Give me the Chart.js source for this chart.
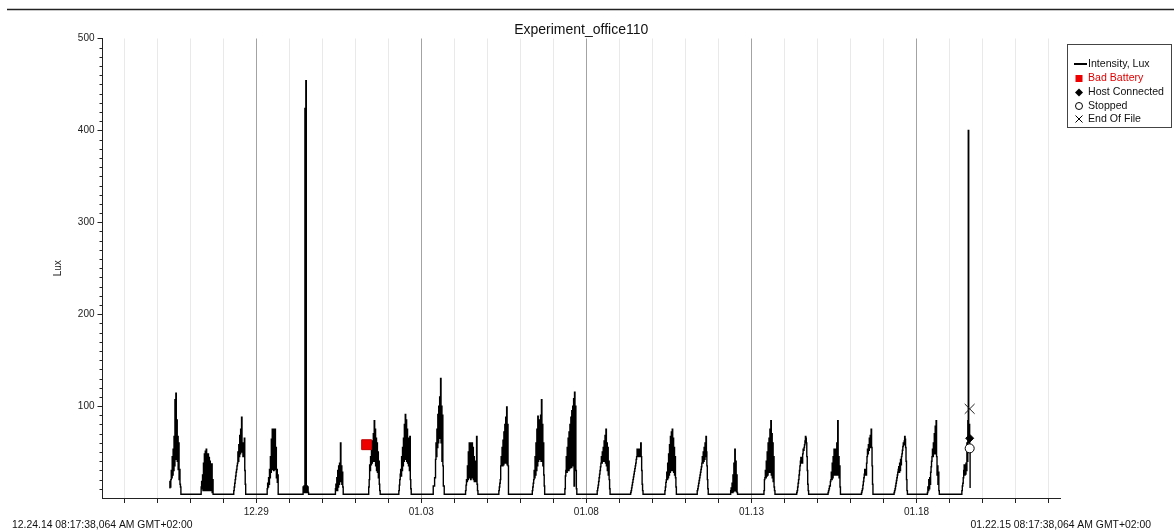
<!DOCTYPE html>
<html>
<head>
<meta charset="utf-8">
<title>Experiment_office110</title>
<script src="https://cdn.jsdelivr.net/npm/chart.js@4.4.1/dist/chart.umd.min.js"></script>
<style>
  html, body { margin: 0; padding: 0; background: #fff; }
  canvas { display: block; }
</style>
</head>
<body>
<canvas id="chart" width="1174" height="531"></canvas>
<script>
// Logger run, 12.24.14 08:17:38 to 01.22.15 08:17:38 (GMT+02:00)
const chartTitle = 'Experiment_office110';
const startStamp = '12.24.14 08:17:38,064 AM GMT+02:00';
const endStamp = '01.22.15 08:17:38,064 AM GMT+02:00';
const axisStartDay = 0.3456;   // days after 12.24 00:00
const axisEndDay = 29.3456;
const dayTicks = [1,2,3,4,5,6,7,8,9,10,11,12,13,14,15,16,17,18,19,20,21,22,23,24,25,26,27,28,29];
const yTickStep = 10;
const sampleMinutes = 20;

// day (after 12.24) and hour when each day's block of readings begins
const readingDay = [2,3,4,5,6,7,8,9,10,11,12,13,14,15,16,17,18,19,20,21,22,23,24,25,26];
const readingStartHour = [8.95,8.0,7.7,8.0,10.1,9.6,9.8,7.7,8.7,8.2,8.4,8.7,8.4,7.9,8.2,9.1,8.6,8.9,9.1,8.9,7.7,8.0,7.7,7.9,8.95];

// light intensity readings (lux), one every sampleMinutes
const lux1226 = [11,18,12,20,30,22,45,25,53,30,67,35,107,45,114,42,85,40,67,31,60,20,31,15,12,4];
const lux1227 = [12,18,10,25,8,38,10,48,8,51,10,53,8,45,10,48,8,44,10,40,8,35,10,37,6,20,4];
const lux1228 = [8,12,16,20,24,28,31,35,38,50,40,58,45,68,48,75,55,88,50,60,45,55,48,65,30,15,4];
const lux1229 = [10,16,12,22,15,31,22,45,28,64,32,75,31,75,30,75,32,75,31,55,22,31,17,25,4];
const lux1230 = [12,6,13,6,424,8,454,6,13,6,12,6,4];
const lux1231 = [10,15,8,22,8,30,12,35,15,38,18,60,20,35,15,28,12,4];
const lux0101 = [12,20,36,30,45,36,55,38,62,40,70,42,84,40,75,35,65,30,60,28,50,22,40,15,8,4];
const lux0102 = [8,14,20,26,31,24,45,30,55,35,65,40,80,45,91,42,85,40,75,38,65,35,60,30,67,20,10,4];
const lux0103 = [13,13,13,22,22,42,60,45,75,55,91,60,100,65,110,70,130,60,100,40,90,35,13,13,4];
const lux0104 = [8,14,20,18,35,20,50,22,60,22,60,20,60,25,60,22,55,20,45,18,40,18,35,20,67,15,8,4];
const lux0105 = [8,12,16,20,35,45,35,55,35,63,36,72,38,80,38,88,40,99,36,80,35,4];
const lux0106 = [8,12,16,20,30,22,45,25,60,30,75,35,89,40,80,42,85,45,90,40,107,45,80,35,60,25,13,4];
const lux0107 = [10,24,30,45,28,55,30,65,30,72,32,80,33,88,33,95,35,100,35,108,13,115,35,100,30,10,4];
const lux0108 = [8,11,14,18,22,26,30,34,38,45,38,50,40,55,40,62,40,68,38,75,35,60,30,55,25,40,20,10,4];
const lux0109 = [6,8,11,14,17,20,23,26,29,32,35,38,42,45,53,45,53,45,53,45,53,45,60,45,30,15,8,4];
const lux0110 = [8,12,17,20,28,20,38,22,48,25,58,28,67,30,72,32,75,30,65,28,55,25,45,22,12,4];
const lux0111 = [8,10,13,16,19,22,25,28,31,34,38,45,38,50,40,55,42,60,45,67,50,35,20,10,4];
const lux0112 = [8,11,6,16,6,25,7,38,8,53,8,40,7,25,6,4];
const lux0113 = [8,20,22,30,22,40,24,50,25,60,28,65,30,75,28,84,25,70,22,60,18,45,12,8,4];
const lux0114 = [6,8,12,16,20,25,30,35,40,44,38,44,38,48,53,52,55,58,62,67,65,60,45,30,15,8,4];
const lux0115 = [6,8,10,13,13,18,20,28,20,38,22,45,25,53,28,50,25,53,30,60,25,84,30,45,22,35,12,4];
const lux0116 = [6,8,10,14,18,22,26,31,25,31,25,38,45,53,48,58,52,65,55,68,60,75,55,35,15,4];
const lux0117 = [6,8,10,13,16,19,22,25,28,31,34,28,38,30,42,36,45,48,52,56,60,58,62,67,64,55,40,20,8,4];
const lux0118 = [6,12,8,20,10,22,15,28,34,40,45,53,45,60,48,70,50,78,48,84,45,25,35,15,28,8,4];
const lux0119 = [8,13,16,22,30,36,25,36,26,38,30,60,40,84,400,60,80,55,11];

const luxByDay = [lux1226,lux1227,lux1228,lux1229,lux1230,lux1231,lux0101,lux0102,lux0103,lux0104,
  lux0105,lux0106,lux0107,lux0108,lux0109,lux0110,lux0111,lux0112,lux0113,lux0114,
  lux0115,lux0116,lux0117,lux0118,lux0119];

// logger events: day after 12.24 and lux at the event
const badBatteryDay = [8.345];
const badBatteryLux = [58];
const hostConnectedDay = [26.61];
const hostConnectedLux = [65];
const stoppedDay = [26.61];
const stoppedLux = [54];
const endOfFileDay = [26.61];
const endOfFileLux = [97];

// ---------------------------------------------------------------
const FONT = "'Liberation Sans', Arial, sans-serif";
Chart.defaults.font.family = FONT;
Chart.defaults.color = '#1a1a1a';

const intensityPoints = [];
luxByDay.forEach((arr, k) => {
  const t0 = readingDay[k] + readingStartHour[k] / 24;
  arr.forEach((v, i) => intensityPoints.push({ x: t0 + i * sampleMinutes / 1440, y: v }));
});
const pair = (xs, ys) => xs.map((x, i) => ({ x, y: ys[i] }));

function dayLabel(d) {
  const dt = new Date(2014, 11, 24 + d);
  return String(dt.getMonth() + 1).padStart(2, '0') + '.' + String(dt.getDate()).padStart(2, '0');
}

// minor ticks on the lux axis
const yMinorTicks = {
  id: 'yMinorTicks',
  afterDraw(chart) {
    const s = chart.scales.y, ctx = chart.ctx;
    ctx.save();
    ctx.strokeStyle = '#222';
    ctx.lineWidth = 1;
    s.ticks.forEach(t => {
      if (t.value % 100 === 0) return;
      const py = Math.round(s.getPixelForValue(t.value)) + 0.5;
      ctx.beginPath();
      ctx.moveTo(s.right - 3, py);
      ctx.lineTo(s.right, py);
      ctx.stroke();
    });
    ctx.restore();
  }
};

// heading rule, title, run stamps and the boxed legend
const decor = {
  id: 'decor',
  afterDraw(chart) {
    const ctx = chart.ctx, area = chart.chartArea;
    ctx.save();
    ctx.strokeStyle = '#222';
    ctx.lineWidth = 1.5;
    ctx.beginPath();
    ctx.moveTo(7, 9.5);
    ctx.lineTo(chart.width, 9.5);
    ctx.stroke();

    ctx.fillStyle = '#111';
    ctx.font = '14px ' + FONT;
    ctx.textAlign = 'center';
    ctx.textBaseline = 'middle';
    ctx.fillText(chartTitle, (area.left + area.right) / 2, 30);

    ctx.font = '10.4px ' + FONT;
    ctx.textAlign = 'left';
    ctx.fillText(startStamp, 12, 525);
    ctx.textAlign = 'right';
    ctx.fillText(endStamp, 1151, 525);

    // legend
    const bx = 1067.5, by = 44.5, bw = 104, bh = 83;
    ctx.strokeStyle = '#444';
    ctx.lineWidth = 1;
    ctx.strokeRect(bx, by, bw, bh);
    const rows = [64, 78.5, 92.5, 106, 119];
    const sx = 1079, tx = 1088;
    ctx.font = '10.6px ' + FONT;
    ctx.textAlign = 'left';
    chart.data.datasets.forEach((ds, i) => {
      const y = rows[i];
      ctx.fillStyle = i === 1 ? '#e00000' : '#111';
      ctx.fillText(ds.label, tx, y);
      ctx.save();
      if (i === 0) {
        ctx.strokeStyle = '#000'; ctx.lineWidth = 2;
        ctx.beginPath(); ctx.moveTo(1074, y); ctx.lineTo(1087, y); ctx.stroke();
      } else if (i === 1) {
        ctx.fillStyle = '#ee0000';
        ctx.fillRect(sx - 3.5, y - 3.5, 7, 7);
      } else if (i === 2) {
        ctx.fillStyle = '#000';
        ctx.beginPath();
        ctx.moveTo(sx, y - 4); ctx.lineTo(sx + 4, y); ctx.lineTo(sx, y + 4); ctx.lineTo(sx - 4, y);
        ctx.closePath(); ctx.fill();
      } else if (i === 3) {
        ctx.strokeStyle = '#000'; ctx.lineWidth = 1; ctx.fillStyle = '#fff';
        ctx.beginPath(); ctx.arc(sx, y, 3.5, 0, Math.PI * 2); ctx.fill(); ctx.stroke();
      } else {
        ctx.strokeStyle = '#000'; ctx.lineWidth = 1;
        ctx.beginPath();
        ctx.moveTo(sx - 3.5, y - 3.5); ctx.lineTo(sx + 3.5, y + 3.5);
        ctx.moveTo(sx + 3.5, y - 3.5); ctx.lineTo(sx - 3.5, y + 3.5);
        ctx.stroke();
      }
      ctx.restore();
    });
    ctx.restore();
  }
};

new Chart(document.getElementById('chart'), {
  type: 'line',
  data: {
    datasets: [
      { label: 'Intensity, Lux', data: intensityPoints, borderColor: '#000', borderWidth: 1.4,
        pointRadius: 0, stepped: 'before', fill: false, order: 5 },
      { label: 'Bad Battery', data: pair(badBatteryDay, badBatteryLux), showLine: false,
        pointStyle: 'rect', pointRadius: 7, backgroundColor: '#ee0000', borderColor: '#c00000',
        borderWidth: 1, order: 1 },
      { label: 'Host Connected', data: pair(hostConnectedDay, hostConnectedLux), showLine: false,
        pointStyle: 'rectRot', pointRadius: 4, backgroundColor: '#000', borderColor: '#000',
        borderWidth: 1, order: 2 },
      { label: 'Stopped', data: pair(stoppedDay, stoppedLux), showLine: false,
        pointStyle: 'circle', pointRadius: 4.5, backgroundColor: '#fff', borderColor: '#000',
        borderWidth: 1, order: 1 },
      { label: 'End Of File', data: pair(endOfFileDay, endOfFileLux), showLine: false,
        pointStyle: 'crossRot', pointRadius: 7, backgroundColor: '#000', borderColor: '#222',
        borderWidth: 1, order: 1 }
    ]
  },
  options: {
    responsive: false,
    animation: false,
    events: [],
    normalized: true,
    layout: { padding: { left: 48, top: 38.5, right: 114, bottom: 0 } },
    plugins: {
      legend: { display: false },
      title: { display: false },
      tooltip: { enabled: false }
    },
    scales: {
      x: {
        type: 'linear',
        min: axisStartDay,
        max: axisEndDay,
        afterBuildTicks: s => { s.ticks = dayTicks.map(v => ({ value: v })); },
        afterFit: s => { s.height = 33; },
        ticks: {
          autoSkip: false, maxRotation: 0, padding: 3, color: '#222',
          font: { size: 10 },
          callback: v => (v % 5 === 0 ? dayLabel(v) : '')
        },
        grid: {
          color: c => (c.tick && c.tick.value % 5 === 0 ? '#a3a3a3' : '#e9e9e9'),
          lineWidth: 1, tickLength: 5, tickColor: '#222', drawTicks: true
        },
        border: { display: true, color: '#222', width: 1 }
      },
      y: {
        min: 0,
        max: 500,
        afterFit: s => { s.width = 54.5; },
        ticks: {
          stepSize: yTickStep, autoSkip: false, padding: 3, color: '#222',
          font: { size: 10 },
          callback: v => (v % 100 === 0 && v > 0 ? String(v) : '')
        },
        grid: {
          drawOnChartArea: false, tickLength: 5,
          tickColor: c => (c.tick && c.tick.value % 100 === 0 && c.tick.value > 0 ? '#222' : 'rgba(0,0,0,0)')
        },
        border: { display: true, color: '#222', width: 1 },
        title: { display: true, text: 'Lux', color: '#222', font: { size: 10 }, padding: 4 }
      }
    }
  },
  plugins: [yMinorTicks, decor]
});
</script>
</body>
</html>
